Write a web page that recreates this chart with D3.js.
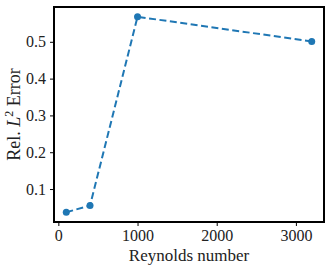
<!DOCTYPE html>
<html>
<head>
<meta charset="utf-8">
<script src="https://cdn.jsdelivr.net/npm/d3@7"></script>
<style>
  body { margin: 0; background: #fff; }
</style>
</head>
<body>
<div id="chart"></div>
<script>
// data
var reynolds = [100, 400, 1000, 3200];
var relError = [0.037, 0.055, 0.568, 0.501];
var xTicks = [0, 1000, 2000, 3000];
var yTicks = [0.1, 0.2, 0.3, 0.4, 0.5];

var FONT = "'Liberation Serif', 'DejaVu Serif', serif";
var W = 332, H = 271;
var margin = {top: 7, right: 8, bottom: 49, left: 54},
    width = W - margin.left - margin.right,
    height = H - margin.top - margin.bottom;

var svg = d3.select("#chart").append("svg")
    .attr("width", W)
    .attr("height", H);

var g = svg.append("g")
    .attr("transform", "translate(" + margin.left + "," + margin.top + ")");

// matplotlib-ish 5% margins
var xr = d3.extent(reynolds), yr = d3.extent(relError);
var xPad = (xr[1] - xr[0]) * 0.05, yPad = (yr[1] - yr[0]) * 0.05;

var x = d3.scaleLinear().domain([xr[0] - xPad, xr[1] + xPad]).range([0, width]);
var y = d3.scaleLinear().domain([yr[0] - yPad, yr[1] + yPad]).range([height, 0]);

var xAxis = g.append("g")
    .attr("transform", "translate(0," + height + ")")
    .call(d3.axisBottom(x).tickValues(xTicks).tickFormat(d3.format("d")).tickSize(4).tickPadding(4));
var yAxis = g.append("g")
    .call(d3.axisLeft(y).tickValues(yTicks).tickFormat(d3.format(".1f")).tickSize(4).tickPadding(4));

[xAxis, yAxis].forEach(function(a) {
    a.select(".domain").remove();
    a.selectAll(".tick line").attr("stroke", "#000").attr("stroke-width", 1);
    a.selectAll(".tick text")
        .style("font-family", FONT)
        .style("font-size", "16px")
        .attr("fill", "#222");
});

// frame
g.append("rect")
    .attr("width", width)
    .attr("height", height)
    .attr("fill", "none")
    .attr("stroke", "#000")
    .attr("stroke-width", 2);

var pts = reynolds.map(function(r, i) { return {x: r, y: relError[i]}; });

g.append("path")
    .datum(pts)
    .attr("fill", "none")
    .attr("stroke", "#1f77b4")
    .attr("stroke-width", 2)
    .attr("stroke-dasharray", "7,3.5")
    .attr("d", d3.line().x(function(d) { return x(d.x); }).y(function(d) { return y(d.y); }));

g.selectAll("circle")
    .data(pts)
    .enter().append("circle")
    .attr("cx", function(d) { return x(d.x); })
    .attr("cy", function(d) { return y(d.y); })
    .attr("r", 3.5)
    .attr("fill", "#1f77b4");

// axis labels
svg.append("text")
    .attr("x", margin.left + width / 2)
    .attr("y", 261)
    .attr("text-anchor", "middle")
    .style("font-family", FONT)
    .style("font-size", "17px")
    .attr("fill", "#222")
    .text("Reynolds number");

var yl = svg.append("text")
    .attr("transform", "translate(20," + (margin.top + height / 2) + ") rotate(-90)")
    .attr("text-anchor", "middle")
    .style("font-family", FONT)
    .style("font-size", "18px")
    .attr("fill", "#222");
yl.append("tspan").text("Rel. ");
yl.append("tspan").style("font-style", "italic").text("L");
yl.append("tspan").attr("dy", -7).style("font-size", "12px").text("2");
yl.append("tspan").attr("dy", 7).text(" Error");
</script>
</body>
</html>
